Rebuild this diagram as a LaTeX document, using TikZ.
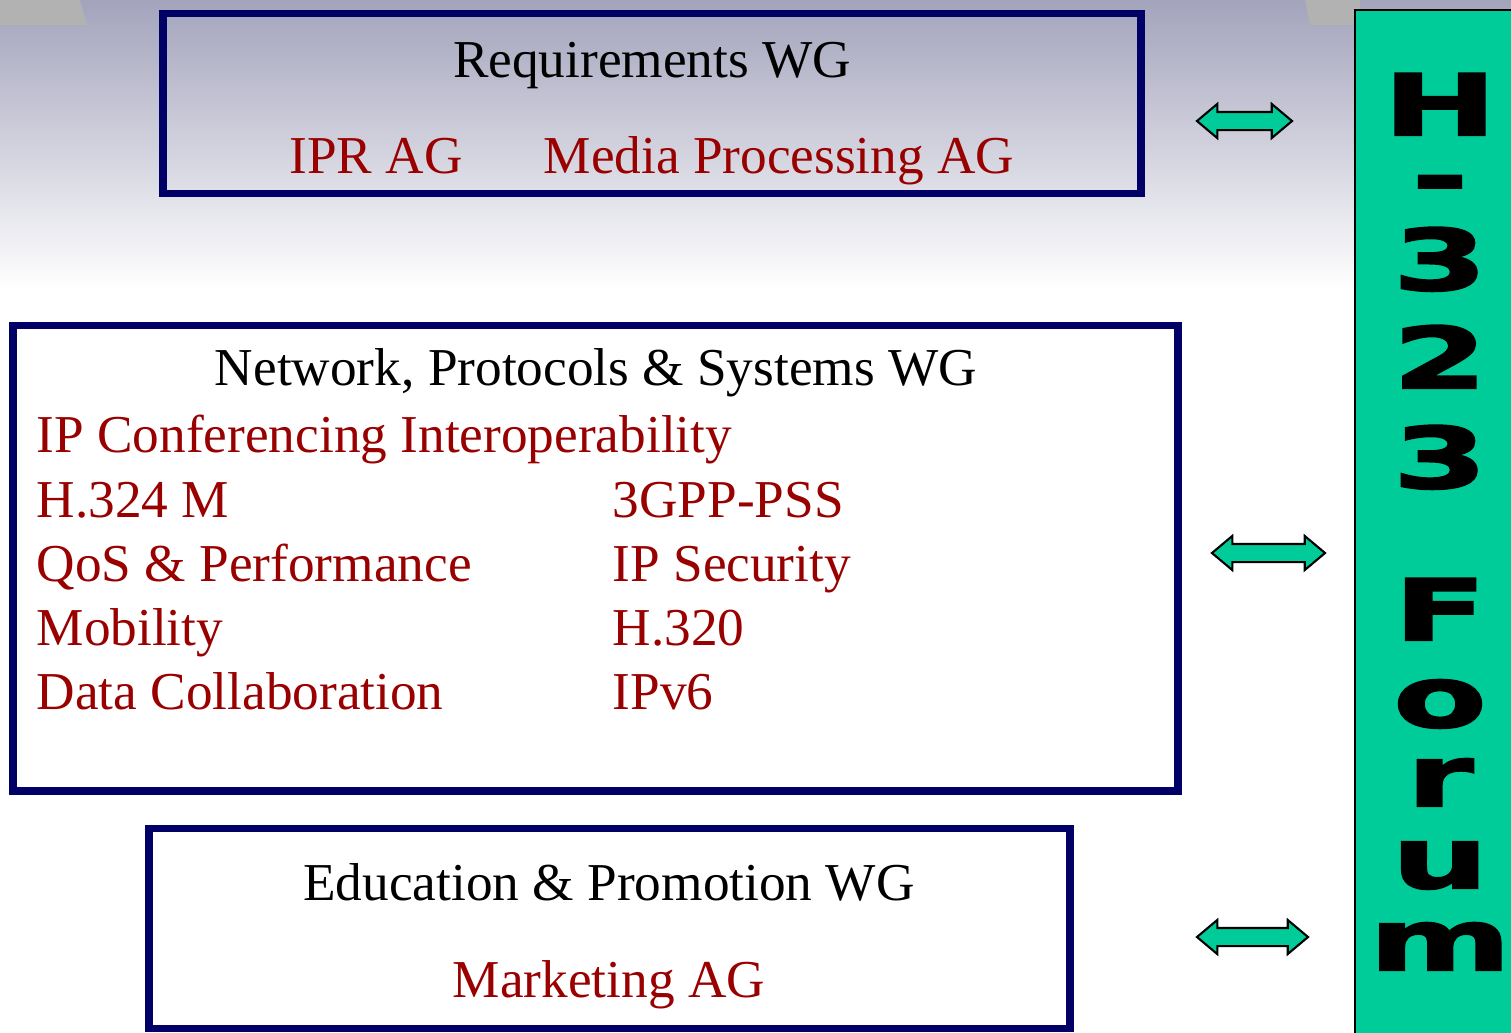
\documentclass[tikz,border=0pt]{standalone}
\usepackage{fontspec}
\setmainfont{Liberation Serif}
\newfontfamily\forumfont{DejaVu Sans}[FakeStretch=1.62,FakeBold=2.5]
\usetikzlibrary{shapes.arrows}
\definecolor{wgblue}{RGB}{0,0,102}
\definecolor{agred}{RGB}{153,0,0}
\definecolor{forumgreen}{RGB}{0,204,153}
\definecolor{topgray}{RGB}{163,163,188}
\definecolor{slidegray}{RGB}{178,178,178}
\tikzset{
  wgbox/.style={draw=wgblue, line width=2.2pt, inner sep=0pt},
  wgtitle/.style={font=\fontsize{15.15}{18}\selectfont, inner sep=0pt, anchor=base},
  aglabel/.style={wgtitle, text=agred},
  agitem/.style={aglabel, anchor=base west},
  linkarrow/.style={shape=double arrow, draw=black, fill=forumgreen, line width=0.6pt,
    inner xsep=0pt, inner ysep=0.08cm, double arrow head extend=0.08cm,
    double arrow tip angle=80},
  forumletter/.style={font=\forumfont\bfseries\fontsize{24}{24}\selectfont, inner sep=0pt, anchor=base}
}
\begin{document}
\begin{tikzpicture}[x=0.01cm, y=-0.01cm]
\useasboundingbox (0,0) rectangle (1511,1032);
\shade[top color=topgray, bottom color=white] (0,0) rectangle (1511,290);
\fill[slidegray] (0,0) -- (80,0) -- (87,25) -- (0,25) -- cycle;
\fill[slidegray] (1305,0) -- (1360,0) -- (1360,25) -- (1310,25) -- cycle;

\node[wgbox, minimum width=9.77cm, minimum height=1.80cm] (reqwg) at (652,103.5){};
\node[wgtitle] (reqtitle) at (652,77){Requirements WG};
\node[aglabel] (iprag) at (376,173){IPR AG};
\node[aglabel] (mediaag) at (779,173){Media Processing AG};

\node[wgbox, minimum width=11.64cm, minimum height=4.65cm] (npswg) at (595.5,558){};
\node[wgtitle] (npstitle) at (596,385){Network, Protocols \& Systems WG};
\node[agitem] (ipconf) at (36,452){IP Conferencing Interoperability};
\node[agitem] (hmobile) at (36,517){H.324 M};
\node[agitem] (qos) at (36,581){QoS \& Performance};
\node[agitem] (mobility) at (36,645){Mobility};
\node[agitem] (datacollab) at (36,709){Data Collaboration};
\node[agitem] (pss) at (612,517){3GPP-PSS};
\node[agitem] (ipsec) at (612,581){IP Security};
\node[agitem] (hisdn) at (612,645){H.320};
\node[agitem] (ipvsix) at (612,709){IPv6};

\node[wgbox, minimum width=9.20cm, minimum height=2.00cm] (edwg) at (609.5,928.5){};
\node[wgtitle] (edtitle) at (609,900){Education \& Promotion WG};
\node[aglabel] (mktag) at (609,997){Marketing AG};

\node[draw=black, fill=forumgreen, line width=0.6pt, inner sep=0pt, minimum width=1.70cm, minimum height=10.30cm] (forum) at (1440,525){};
\node[forumletter] (fH) at (1440,135){H};
\node[forumletter] (fdash) at (1440,206){-};
\node[forumletter] (fthree) at (1440,290){3};
\node[forumletter] (ftwo) at (1440,388){2};
\node[forumletter] (fthreeb) at (1440,488){3};
\node[forumletter] (fF) at (1440,640){F};
\node[forumletter] (fo) at (1440,727){o};
\node[forumletter] (fr) at (1440,806){r};
\node[forumletter] (fu) at (1440,888){u};
\node[forumletter] (fm) at (1440,970){m};

\node[linkarrow, minimum height=0.95cm] (reqlink) at (1244.5,121){};
\node[linkarrow, minimum height=1.13cm] (npslink) at (1268.5,553){};
\node[linkarrow, minimum height=1.11cm] (edlink) at (1252.5,937){};

\end{tikzpicture}
\end{document}
